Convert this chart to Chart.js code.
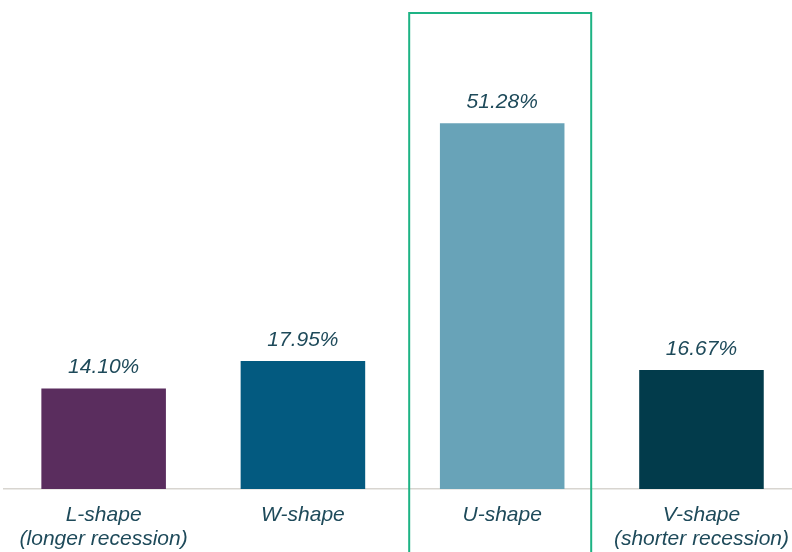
<!DOCTYPE html>
<html>
<head>
<meta charset="utf-8">
<script src="https://cdn.jsdelivr.net/npm/chart.js@4.4.1/dist/chart.umd.min.js"></script>
<style>
  html, body { margin: 0; padding: 0; background: #fff; overflow: hidden; }
</style>
</head>
<body>
<canvas id="shapeChart" width="803" height="552"></canvas>
<script>
var shapes = [["L-shape", "(longer recession)"], "W-shape", "U-shape", ["V-shape", "(shorter recession)"]];
var shares = [14.10, 17.95, 51.28, 16.67];
var barColors = ["#5a2d5e", "#035a80", "#68a3b8", "#023b4b"];
var highlightIndex = 2;

var textColor = "#1e4a5a";
var labelFont = { family: "Arial, 'Liberation Sans', sans-serif", size: 21, style: "italic" };

// value labels above bars + green box around the highlighted category
var extras = {
  id: 'extras',
  afterDatasetsDraw: function (chart) {
    var ctx = chart.ctx;
    var meta = chart.getDatasetMeta(0);
    ctx.save();
    ctx.fillStyle = textColor;
    ctx.font = "italic 21px Arial, 'Liberation Sans', sans-serif";
    ctx.textAlign = 'center';
    ctx.textBaseline = 'alphabetic';
    meta.data.forEach(function (bar, i) {
      ctx.fillText(shares[i].toFixed(2) + '%', bar.x, bar.y - 15);
    });
    ctx.restore();
  },
  afterDraw: function (chart) {
    var ctx = chart.ctx;
    var cx = chart.scales.x.getPixelForValue(highlightIndex);
    ctx.save();
    ctx.strokeStyle = '#1db384';
    ctx.lineWidth = 2;
    ctx.strokeRect(cx - 93, 13, 182, 560);
    ctx.restore();
  }
};

new Chart(document.getElementById("shapeChart"), {
  type: 'bar',
  data: {
    labels: shapes,
    datasets: [{
      data: shares,
      backgroundColor: barColors,
      barPercentage: 0.625,
      categoryPercentage: 1
    }]
  },
  options: {
    responsive: false,
    devicePixelRatio: 1,
    animation: false,
    layout: { padding: { top: 61, left: 4, right: 0, bottom: 0 } },
    plugins: { legend: { display: false }, tooltip: { enabled: false } },
    scales: {
      x: {
        grid: { display: false, drawTicks: false },
        border: { display: true, color: '#d8d5d0', width: 1.5 },
        ticks: {
          color: textColor,
          font: Object.assign({ lineHeight: 1.15 }, labelFont),
          padding: 14,
          maxRotation: 0,
          autoSkip: false
        },
        afterFit: function (scale) { scale.height = 63; }
      },
      y: {
        display: false,
        min: 0,
        max: 60
      }
    }
  },
  plugins: [extras]
});
</script>
</body>
</html>
